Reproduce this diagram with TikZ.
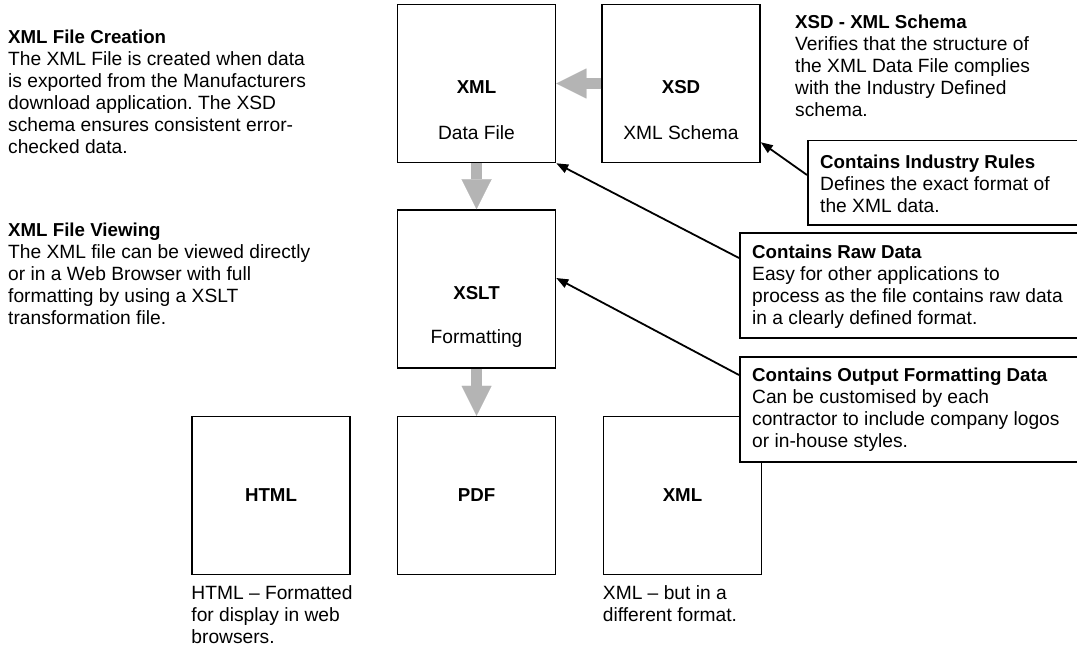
\documentclass[tikz,border=0pt]{standalone}
\usepackage{fontspec}
\setmainfont{Liberation Sans}
\usetikzlibrary{arrows.meta,positioning}
\frenchspacing

\definecolor{flowgray}{RGB}{180,180,180}
\newcommand{\txtsize}{\fontsize{19.2}{22}\selectfont}
\newcommand{\hd}[1]{{\fontsize{18.7}{22}\selectfont\bfseries #1}}

\begin{document}
\begin{tikzpicture}[x=1pt,y=-1pt,
    box/.style={draw,line width=1.5pt,minimum width=158pt,minimum height=158pt,inner sep=0pt},
    callout/.style={draw,fill=white,line width=1.5pt,anchor=north west,minimum width=360pt,inner sep=0pt},
    note/.style={anchor=north west,align=left,inner sep=0pt,font=\txtsize},
    title/.style={inner sep=0pt,font=\fontsize{18.7}{22}\selectfont\bfseries},
    sub/.style={inner sep=0pt,font=\txtsize},
    flow/.style={flowgray,line width=11pt,-{Triangle[length=30pt,width=30pt,line width=0.01pt]}},
    link/.style={line width=1.8pt,-{Triangle[length=12pt,width=9pt]}}]
    \useasboundingbox (0,0) rectangle (1077,650);

    % main boxes
    \node [box] (xml)  at (476.5,83.5)  {};
    \node [box] (xsd)  at (681,83.5)    {};
    \node [box] (xslt) at (476.5,289)   {};
    \node [box] (html) at (271,495.5)   {};
    \node [box] (pdf)  at (476.5,495.5) {};
    \node [box] (xmlout) at (682.5,495.5) {};

    \node [title] at ([yshift=-3.5pt]xml.center) {XML};
    \node [sub]   at ([yshift=-49.5pt]xml.center) {Data File};
    \node [title] at ([yshift=-3.5pt]xsd.center) {XSD};
    \node [sub]   at ([yshift=-49.5pt]xsd.center) {XML Schema};
    \node [title] at ([yshift=-4pt]xslt.center) {XSLT};
    \node [sub]   at ([yshift=-50pt]xslt.center) {Formatting};
    \node [title] at (html.center) {HTML};
    \node [title] at (pdf.center) {PDF};
    \node [title] at (xmlout.center) {XML};

    \draw [flow] (xsd) -- (xml);
    \draw [flow] (xml) -- (xslt);
    \draw [flow] (xslt) -- (pdf);

    % side notes
    \node [note] (creation) at (8,30) {\hd{XML File Creation}\\The XML File is created when data\\is exported from the Manufacturers\\download application. The XSD\\schema ensures consistent error-\\checked data.};
    \node [note] (viewing) at (8,223) {\hd{XML File Viewing}\\The XML file can be viewed directly\\or in a Web Browser with full\\formatting by using a XSLT\\transformation file.};
    \node [note] (schema) at (795,15) {\hd{XSD - XML Schema}\\Verifies that the structure of\\the XML Data File complies\\with the Industry Defined\\schema.};
    \node [note] at ([yshift=-10pt]html.south west) {HTML -- Formatted\\for display in web\\browsers.};
    \node [note] at ([yshift=-10pt]xmlout.south west) {XML -- but in a\\different format.};

    % callouts
    \node [callout,minimum height=84pt]  (rules) at (807,140) {};
    \node [callout,minimum height=105pt] (raw)   at (739,232) {};
    \node [callout,minimum height=105pt] (style) at (739,356) {};
    \node [note] at ([xshift=13pt,yshift=-15pt]rules.north west) {\hd{Contains Industry Rules}\\Defines the exact format of\\the XML data.};
    \node [note] at ([xshift=13pt,yshift=-13pt]raw.north west) {\hd{Contains Raw Data}\\Easy for other applications to\\process as the file contains raw data\\in a clearly defined format.};
    \node [note] at ([xshift=13pt,yshift=-12pt]style.north west) {\hd{Contains Output Formatting Data}\\Can be customised by each\\contractor to include company logos\\or in-house styles.};

    \draw [link] ([yshift=-35pt]rules.north west) -- ([yshift=21pt]xsd.south east);
    \draw [link] ([yshift=-26pt]raw.north west) -- (xml.south east);
    \draw [link] ([yshift=-19pt]style.north west) -- ([yshift=11pt]xslt.east);
\end{tikzpicture}
\end{document}
